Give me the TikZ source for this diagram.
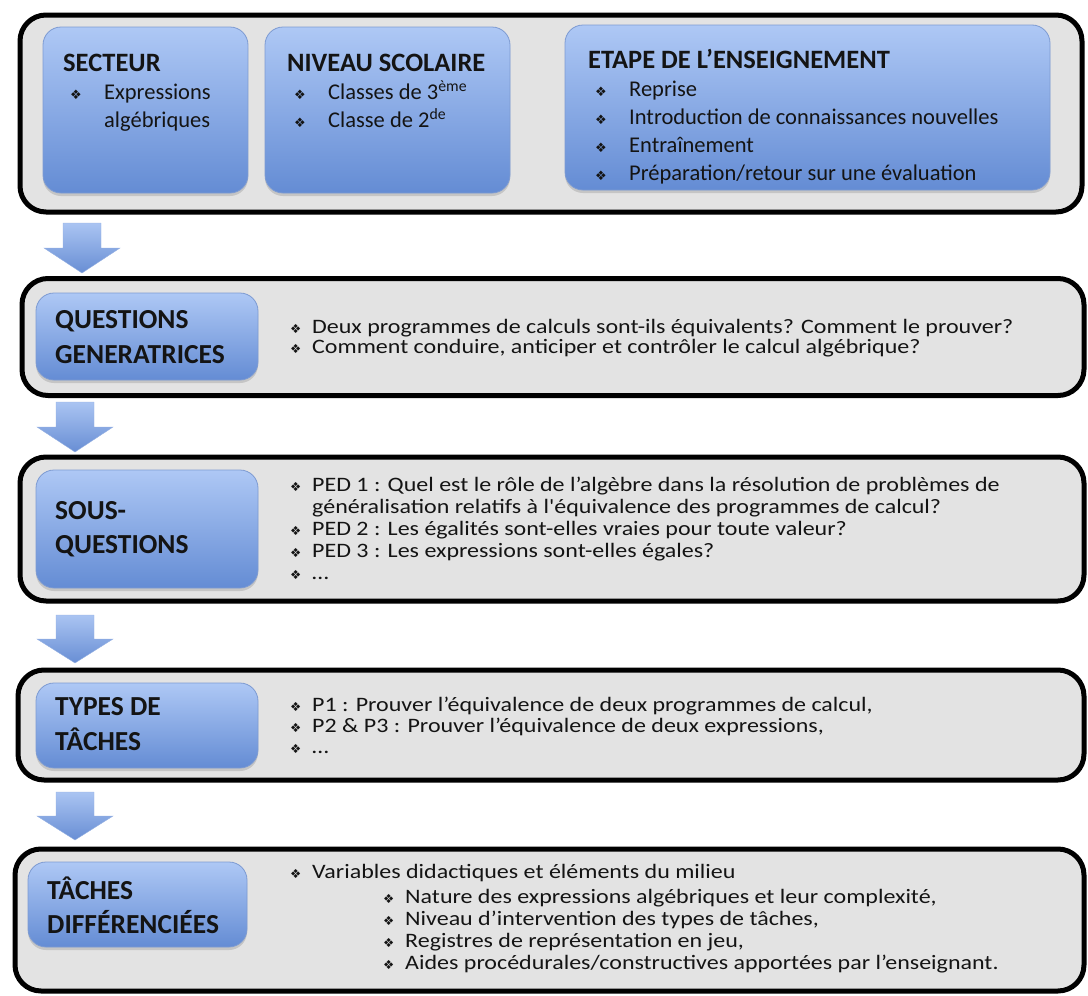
\documentclass[tikz,border=0pt]{standalone}
\usepackage{fontspec}
\setmainfont{Carlito}
\newfontfamily\widefont[FakeStretch=1.17]{Carlito}
\newfontfamily\symfont{DejaVu Sans}
\usetikzlibrary{shadows}
\definecolor{panelgray}{RGB}{227,227,227}
\definecolor{boxtop}{RGB}{174,200,245}
\definecolor{boxbot}{RGB}{100,140,212}
\definecolor{boxedge}{RGB}{125,155,210}
\definecolor{arrtop}{RGB}{170,196,242}
\definecolor{arrbot}{RGB}{104,142,212}
\definecolor{inktext}{RGB}{20,20,20}

\newcommand\tbul{\hspace*{7pt}\makebox[34pt][l]{\symfont\fontsize{13}{13}\selectfont ❖}}
\newcommand\lbul{\makebox[22pt][l]{\symfont\fontsize{12.5}{12.5}\selectfont ❖}}
\newcommand\thead[1]{{\fontsize{26.5}{28}\selectfont\bfseries #1}}
\newcommand\blockdown[3]{%
  \shadedraw[top color=arrtop, bottom color=arrbot, draw=arrbot!70!white, line width=0.4pt]
  (#1-19,#3) -- (#1+19,#3) -- (#1+19,{(#2+#3)/2}) -- (#1+38,{(#2+#3)/2}) -- (#1,#2)
  -- (#1-38,{(#2+#3)/2}) -- (#1-19,{(#2+#3)/2}) -- cycle;}
\newcommand\ltext[4]{\node[lowtext] (#1) at (#2,#3) {#4};}
\newcommand\lab[4]{\node[labeltext] (#1) at (#2,#3) {#4};}

\tikzset{
  panel/.style={draw=black, line width=5pt, fill=panelgray, rounded corners=26pt, inner sep=0pt,
    drop shadow={opacity=0.2, shadow xshift=1pt, shadow yshift=-2pt}},
  bluebox/.style={draw=boxedge, line width=0.8pt, top color=boxtop, bottom color=boxbot,
    rounded corners=18pt, inner sep=0pt,
    drop shadow={opacity=0.3, shadow xshift=0pt, shadow yshift=-3pt}},
  labeltext/.style={anchor=base west, inner sep=0pt,
    font=\fontsize{27.5}{33}\selectfont\bfseries, text=inktext},
  toptext/.style={anchor=base west, inner sep=0pt, font=\fontsize{22.5}{28}\selectfont, text=inktext},
  lowtext/.style={anchor=base west, inner sep=0pt, font=\widefont\fontsize{20.5}{22}\selectfont, text=inktext},
}

\begin{document}
\begin{tikzpicture}[x=1pt,y=-1pt]
\useasboundingbox (0,0) rectangle (1088,996);
% panels
\node[panel, minimum width=1062pt, minimum height=197pt] (p1) at (551,113.5) {};
\node[panel, minimum width=1062pt, minimum height=117pt] (p2) at (553,337) {};
\node[panel, minimum width=1064pt, minimum height=144pt] (p3) at (552,529) {};
\node[panel, minimum width=1066pt, minimum height=110pt] (p4) at (551,725) {};
\node[panel, minimum width=1069pt, minimum height=142pt] (p5) at (549.5,920) {};
% blue boxes
\node[bluebox, minimum width=205pt, minimum height=166pt] (b1a) at (145.5,110) {};
\node[bluebox, minimum width=245pt, minimum height=166pt] (b1b) at (387.5,110) {};
\node[bluebox, minimum width=485pt, minimum height=165pt] (b1c) at (807.5,107.5) {};
\node[bluebox, minimum width=222pt, minimum height=87pt] (b2) at (147,336.5) {};
\node[bluebox, minimum width=222pt, minimum height=118pt] (b3) at (147,529) {};
\node[bluebox, minimum width=222pt, minimum height=85pt] (b4) at (147,725.5) {};
\node[bluebox, minimum width=219pt, minimum height=85pt] (b5) at (137.5,904.5) {};
% arrows
\blockdown{82}{273}{223}
\blockdown{75}{452}{402}
\blockdown{75}{663}{615}
\blockdown{75}{840}{792}
% top texts
\node[toptext] (t1a) at (63,71) {\begin{tabular}[t]{@{}l@{}}\thead{SECTEUR}\\ \tbul Expressions\\ \hspace*{41pt}algébriques\end{tabular}};
\node[toptext] (t1b) at (287,71) {\begin{tabular}[t]{@{}l@{}}\thead{NIVEAU SCOLAIRE}\\ \tbul Classes de 3\textsuperscript{ème}\\ \tbul Classe de 2\textsuperscript{de}\end{tabular}};
\node[toptext] (t1c) at (588,68) {\begin{tabular}[t]{@{}l@{}}\thead{ETAPE DE L’ENSEIGNEMENT}\\ \tbul Reprise\\ \tbul Introduction de connaissances nouvelles\\ \tbul Entraînement\\ \tbul Préparation/retour sur une évaluation\end{tabular}};
% labels
\lab{l2a}{55}{328}{QUESTIONS}
\lab{l2b}{55}{363}{GENERATRICES}
\lab{l3a}{55}{519}{SOUS-}
\lab{l3b}{55}{553}{QUESTIONS}
\lab{l4a}{55}{715}{TYPES DE}
\lab{l4b}{55}{750}{TÂCHES}
\lab{l5a}{47}{899}{TÂCHES}
\lab{l5b}{47}{933}{DIFFÉRENCIÉES}
% panel 2 text
\ltext{q1}{290}{333}{\lbul Deux programmes de calculs sont-ils équivalents? Comment le prouver?}
\ltext{q2}{290}{353}{\lbul Comment conduire, anticiper et contrôler le calcul algébrique?}
% panel 3 text
\ltext{s1}{290}{491}{\lbul PED 1 : Quel est le rôle de l’algèbre dans la résolution de problèmes de}
\ltext{s1b}{312}{513}{généralisation relatifs à l'équivalence des programmes de calcul?}
\ltext{s2}{290}{535}{\lbul PED 2 : Les égalités sont-elles vraies pour toute valeur?}
\ltext{s3}{290}{557}{\lbul PED 3 : Les expressions sont-elles égales?}
\ltext{s4}{290}{579}{\lbul …}
% panel 4 text
\ltext{r1}{290}{711}{\lbul P1 : Prouver l’équivalence de deux programmes de calcul,}
\ltext{r2}{290}{732}{\lbul P2 \& P3 : Prouver l’équivalence de deux expressions,}
\ltext{r3}{290}{753}{\lbul …}
% panel 5 text
\ltext{v0}{290}{878}{\lbul Variables didactiques et éléments du milieu}
\ltext{v1}{383}{903}{\lbul Nature des expressions algébriques et leur complexité,}
\ltext{v2}{383}{925}{\lbul Niveau d’intervention des types de tâches,}
\ltext{v3}{383}{947}{\lbul Registres de représentation en jeu,}
\ltext{v4}{383}{969}{\lbul Aides procédurales/constructives apportées par l’enseignant.}
\end{tikzpicture}
\end{document}
